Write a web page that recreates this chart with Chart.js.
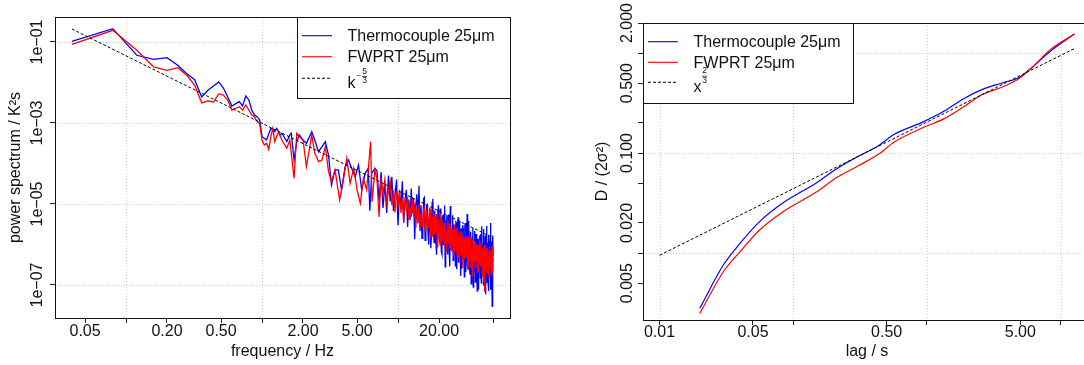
<!DOCTYPE html>
<html lang="en">
<head>
<meta charset="UTF-8">
<title>Spectrum and structure function</title>
<script src="https://cdn.jsdelivr.net/npm/chart.js@4.4.0/dist/chart.umd.min.js"></script>
<style>
  html, body { margin: 0; padding: 0; overflow: hidden; background: #fff; width: 1084px; height: 365px; }
  #left { position: absolute; left: 0; top: 0; }
  #right { position: absolute; left: 560px; top: 0; }
</style>
</head>
<body>
<div id="left"><canvas id="spec" width="540" height="365"></canvas></div>
<div id="right"><canvas id="struct" width="540" height="365"></canvas></div>
<script>
// ---- data ----
const seriesNames = ['Thermocouple 25μm', 'FWPRT 25μm'];

// power spectrum, low and mid frequencies (Hz)
const thermoFreqLow = [0.04,0.08,0.12,0.16,0.20,0.24,0.28,0.32,0.36,0.40,0.44,0.48,0.52,0.56,0.60,
  0.68,0.72,0.76,0.80,0.84,0.88,0.92,0.96,1.00,1.04,1.08,1.16,1.20,1.24,1.28,1.36,1.40,1.52,1.60,1.64,1.72,1.80,1.88,
  2.00,2.12,2.32,2.44,2.60,2.76,2.92,3.08,3.24,3.44,3.64,3.84,4.08,4.32,4.56,4.84,5.12,5.40,5.72,6.04,6.20,6.40,6.76];
const thermoPsdLow = [0.104,0.213,0.047,0.0374,0.0410,0.0266,0.0165,0.0117,0.00439,0.00641,0.0082,0.0103,0.0073,0.00439,0.00263,
  3.36e-3,2.63e-3,4.65e-3,3.70e-3,2.09e-3,1.58e-3,1.43e-3,1.19e-3,4.59e-4,4.18e-4,3.80e-4,7.40e-4,6.7e-4,6.1e-4,7.4e-4,5.06e-4,5.57e-4,3.46e-4,5.06e-4,5.57e-4,1.22e-4,3.46e-4,5.06e-4,
  3.80e-4,3.15e-4,6.10e-4,3.80e-4,1.95e-4,2.60e-4,3.46e-4,1.62e-4,2.94e-5,6.92e-5,6.92e-5,2.22e-5,8.34e-5,1.22e-4,7.60e-5,4.72e-5,9.18e-5,2.22e-5,5.73e-5,7.60e-5,6.84e-6,5.73e-5,7.60e-5];

const fwprtFreqLow = [0.04,0.08,0.12,0.16,0.20,0.24,0.28,0.32,0.36,0.40,0.44,0.48,0.52,0.56,0.60,
  0.68,0.72,0.76,0.80,0.84,0.88,0.92,0.96,1.00,1.04,1.08,1.12,1.16,1.20,1.24,1.32,1.40,1.52,1.60,1.72,1.80,1.88,
  2.00,2.12,2.32,2.44,2.52,2.60,2.76,2.92,3.08,3.24,3.44,3.72,3.96,4.20,4.44,4.72,5.00,5.28,5.56,5.88,6.28,6.44,6.76];
const fwprtPsdLow = [0.0877,0.194,0.0624,0.0242,0.0200,0.0232,0.0151,0.00853,0.00312,0.00349,0.00330,0.00520,0.00491,0.00370,0.00209,
  2.53e-3,2.09e-3,2.78e-3,2.09e-3,1.58e-3,1.43e-3,1.08e-3,9.8e-4,3.80e-4,2.86e-4,3.15e-4,2.24e-4,4.59e-4,7.40e-4,3.46e-4,6.10e-4,3.80e-4,2.37e-4,3.80e-4,4.32e-5,5.57e-4,4.59e-4,
  3.80e-4,8.34e-5,5.06e-4,1.79e-4,1.47e-4,1.11e-4,1.22e-4,2.60e-4,6.28e-5,3.56e-5,6.92e-5,1.26e-5,3.92e-5,1.34e-4,3.24e-5,7.60e-5,2.22e-5,1.04e-5,4.32e-5,2.22e-5,3.46e-4,1.14e-5,6.92e-5];

// power spectrum, high frequencies (shared grid)
const freqHigh = [7.00,7.25,7.50,7.75,8.00,8.25,8.50,8.75,9.00,9.25,9.50,9.75,10.00,10.25,10.50,10.75,11.00,11.25,11.50,11.75,
  12.00,12.25,12.50,12.75,13.00,13.25,13.50,13.75,14.00,14.25,14.50,14.75,15.00,
  15.4,15.8,16.2,16.6,17.0,17.4,17.8,18.2,18.6,19.0,19.4,19.8,20.2,20.6,21.0,21.4,21.8,22.2,22.6,23.0,
  23.4,23.8,24.2,24.6,25.0,25.4,25.8,26.2,26.6,27.0,27.4,27.8,28.2,28.6,29.0,29.4,29.8,30.2,
  30.7,31.2,31.7,32.2,32.7,33.2,33.7,34.2,34.7,35.2,35.7,36.2,36.7,37.2,37.7,38.2,38.7,39.2,39.7,40.2,
  40.7,41.2,41.7,42.2,42.7,43.2,43.7,44.2,44.7,45.2,45.7,46.2,46.7,47.2,47.7,48.2,48.7,49.2,49.7,50.0];
const thermoPsdHigh = [6.61e-5,1.20e-5,6.17e-5,7.94e-6,3.24e-5,6.03e-6,5.01e-5,1.15e-5,4.68e-5,6.76e-6,
  1.74e-5,3.98e-5,2.95e-6,2.0e-5,7.59e-6,3.63e-5,3.47e-6,1.05e-5,2.24e-5,2.69e-6,
  1.29e-5,3.98e-6,2.40e-5,5.89e-6,1.41e-5,1.35e-6,9.12e-6,1.74e-5,3.31e-6,2.82e-5,2.14e-6,9.33e-6,1.41e-6,
  1.35e-5,1.26e-6,8.51e-6,1.82e-6,4.90e-6,8.13e-7,1.10e-5,2.09e-6,6.92e-6,1.05e-6,
  4.37e-6,9.33e-6,1.26e-6,3.39e-6,5.75e-7,5.50e-6,1.66e-6,2.82e-7,3.80e-6,1.02e-6,
  5.50e-6,6.61e-7,8.91e-6,7.76e-7,2.34e-6,4.07e-7,3.09e-6,9.33e-7,3.63e-6,2.45e-7,
  1.48e-6,5.13e-7,3.89e-6,6.61e-7,2.04e-6,2.51e-7,1.35e-6,2.34e-6,
  1.58e-7,3.39e-6,4.17e-7,5.62e-6,2.45e-7,1.17e-6,1.82e-7,1.95e-6,4.27e-7,1.48e-6,
  8.91e-8,7.76e-7,2.14e-6,2.09e-7,1.02e-6,7.08e-8,1.38e-6,3.02e-7,1.66e-6,1.48e-7,
  7.24e-7,2.82e-6,2.0e-7,9.77e-7,9.55e-8,7.59e-7,1.66e-6,2.09e-7,2.88e-6,1.15e-7,
  7.94e-7,7.08e-8,1.23e-6,2.19e-7,3.39e-6,1.35e-7,9.55e-7,2.95e-8,1.66e-6,5.25e-7];
const fwprtPsdHigh = [4.17e-5,4.79e-6,4.37e-5,1.78e-5,4.07e-5,1.07e-5,2.24e-5,3.63e-5,9.33e-6,2.14e-5,
  6.17e-6,2.0e-5,9.33e-6,2.24e-5,6.03e-6,1.29e-5,3.47e-6,1.48e-5,7.94e-6,1.51e-5,
  4.07e-6,8.91e-6,4.79e-6,1.48e-5,5.01e-6,1.07e-5,2.57e-6,7.76e-6,3.72e-6,1.0e-5,2.69e-6,5.89e-6,2.82e-6,
  7.59e-6,2.24e-6,6.03e-6,3.24e-6,7.76e-6,1.45e-6,3.89e-6,5.89e-6,1.74e-6,3.72e-6,
  8.71e-7,4.17e-6,1.78e-6,4.79e-6,1.15e-6,2.75e-6,1.32e-6,3.55e-6,6.76e-7,2.04e-6,
  1.10e-6,3.31e-6,1.26e-6,6.92e-7,2.34e-6,1.02e-6,3.09e-6,6.61e-7,1.62e-6,6.92e-7,
  2.09e-6,4.57e-7,1.23e-6,2.09e-6,6.46e-7,1.41e-6,2.69e-7,1.48e-6,
  4.47e-7,1.51e-6,6.61e-7,1.58e-6,2.75e-7,1.05e-6,4.07e-7,1.55e-6,6.03e-7,1.66e-7,
  1.0e-6,3.89e-7,1.20e-6,2.63e-7,7.24e-7,3.98e-7,9.77e-7,2.14e-7,5.89e-7,1.05e-6,
  2.88e-7,7.08e-7,1.58e-7,7.76e-7,3.80e-7,6.76e-8,9.33e-7,2.95e-7,5.75e-7,2.04e-7,
  7.94e-7,3.98e-7,1.55e-7,8.71e-7,2.69e-7,6.03e-7,1.70e-7,9.33e-7,2.09e-7,4.68e-7];

// extra bins in between, 15-50 Hz
const freqHigh2 = [15.2,15.6,16.0,16.4,16.8,17.2,17.6,18.0,18.4,18.8,19.2,19.6,20.0,20.4,20.8,21.2,21.6,22.0,22.4,22.8,
  23.2,23.6,24.0,24.4,24.8,25.2,25.6,26.0,26.4,26.8,27.2,27.6,28.0,28.4,28.8,29.2,29.6,30.0,
  30.95,31.45,31.95,32.45,32.95,33.45,33.95,34.45,34.95,35.45,35.95,36.45,36.95,37.45,37.95,38.45,38.95,39.45,39.95,
  40.45,40.95,41.45,41.95,42.45,42.95,43.45,43.95,44.45,44.95,45.45,45.95,46.45,46.95,47.45,47.95,48.45,48.95,49.45];
const thermoPsdHigh2 = [1.95e-6,1.45e-5,2.75e-6,9.33e-6,1.00e-6,5.89e-6,1.78e-6,1.35e-5,1.12e-6,3.80e-6,
  5.62e-7,6.76e-6,1.45e-6,7.76e-6,6.61e-7,4.47e-6,9.55e-7,9.12e-6,1.38e-6,5.25e-6,
  5.62e-7,3.02e-6,2.88e-7,3.55e-6,7.59e-7,5.25e-6,5.62e-7,2.14e-6,2.95e-7,3.55e-6,
  7.59e-7,4.68e-6,3.55e-7,2.14e-6,1.66e-7,2.51e-6,4.37e-7,3.02e-6,
  2.75e-6,2.09e-7,1.62e-6,3.09e-7,3.80e-6,4.07e-7,2.00e-6,1.07e-7,1.05e-6,2.57e-6,
  1.95e-7,1.35e-6,1.17e-7,1.82e-6,2.82e-7,9.77e-7,7.59e-8,1.32e-6,3.31e-7,
  1.82e-6,1.12e-7,1.00e-6,1.74e-7,2.40e-6,2.14e-7,7.41e-7,5.89e-8,1.45e-6,2.57e-7,
  1.12e-6,1.12e-7,1.74e-6,1.74e-7,9.55e-7,7.59e-8,1.20e-6,2.09e-7,1.48e-6];
const fwprtPsdHigh2 = [3.89e-6,8.13e-6,2.19e-6,5.25e-6,2.51e-6,7.41e-6,3.16e-6,1.51e-6,5.01e-6,2.14e-6,
  5.62e-6,1.51e-6,2.88e-6,9.77e-7,4.17e-6,1.78e-6,3.39e-6,1.02e-6,2.75e-6,1.17e-6,
  3.98e-6,1.35e-6,8.13e-7,2.51e-6,8.51e-7,1.86e-6,5.01e-7,2.40e-6,1.17e-6,2.51e-6,
  5.37e-7,1.66e-6,7.08e-7,1.20e-6,5.25e-7,2.00e-6,6.92e-7,1.20e-6,
  1.38e-6,4.68e-7,1.02e-6,3.47e-7,1.51e-6,5.75e-7,1.26e-6,2.69e-7,7.41e-7,1.29e-6,
  3.89e-7,8.51e-7,2.95e-7,1.02e-6,5.01e-7,1.95e-7,8.51e-7,3.72e-7,1.17e-6,
  2.88e-7,6.31e-7,2.51e-7,7.76e-7,1.20e-7,9.55e-7,3.72e-7,6.61e-7,2.04e-7,8.13e-7,
  2.82e-7,5.01e-7,1.74e-7,8.71e-7,3.02e-7,6.76e-7,2.14e-7,5.25e-7,2.63e-7];

// k^(-5/3) reference line
const kFreq = [0.04, 50];
const kPsd = [0.21, 1.45e-6];

// structure function
const lag = [0.02,0.03,0.04,0.056,0.084,0.15,0.21,0.31,0.44,0.57,0.93,1.35,1.9,2.6,3.7,4.9,6.2,8.3,12.7];
const thermoD = [0.0028,0.00759,0.0125,0.0206,0.0318,0.0505,0.0692,0.0933,0.120,0.154,0.204,0.263,0.352,0.434,0.505,0.571,0.730,1.03,1.55];
const fwprtD = [0.00249,0.0065,0.0103,0.0170,0.0259,0.0410,0.0565,0.075,0.0984,0.129,0.179,0.221,0.292,0.385,0.460,0.558,0.730,1.07,1.55];
// x^(2/3) reference line
const powLag = [0.01, 12.7];
const powD = [0.0095, 1.11];

// axis ticks
const specXTicks = [0.05,0.1,0.2,0.5,1,2,5,10,20,50];
const specXLabels = ['0.05','','0.20','0.50','','2.00','5.00','','20.00',''];
const specXGrid = [0.1,1,10];
const specYTicks = [1e-7,1e-5,1e-3,1e-1];
const specYLabels = ['1e\u221207','1e\u221205','1e\u221203','1e\u221201'];
const specYGrid = [1e-7,1e-5,1e-3,1e-1];

const lagXTicks = [0.01,0.05,0.1,0.5,1,5,10];
const lagXLabels = ['0.01','0.05','','0.50','','5.00',''];
const lagXGrid = [0.01,0.1,1,10];
const lagYTicks = [0.005,0.01,0.02,0.05,0.1,0.2,0.5,1,2];
const lagYLabels = ['0.005','','0.020','','0.100','','0.500','','2.000'];
const lagYGrid = [0.01,0.1,1];

// ---- styling ----
const FONT = '"Liberation Sans", Arial, Helvetica, sans-serif';
const INK = '#111';
const BLUE = '#0000ff';
const RED = '#ff0000';

const pairs = (xs, ys) => xs.map((x, i) => ({ x: x, y: ys[i] })).sort((p, q) => p.x - q.x);

function logAxis(min, max, ticks, size, isX) {
  return {
    type: 'logarithmic', min: min, max: max,
    afterBuildTicks: s => { s.ticks = ticks.map(v => ({ value: v })); },
    afterFit: s => { if (isX) s.height = size; else s.width = size; },
    ticks: { display: false },
    grid: { drawOnChartArea: false, tickColor: '#222', tickLength: 5, tickWidth: 1 },
    border: { display: false }
  };
}

function drawPow(ctx, x, ly, p) {
  ctx.font = '16px ' + FONT;
  ctx.textAlign = 'left';
  ctx.textBaseline = 'alphabetic';
  ctx.fillText(p.base, x, ly + p.baseDy);
  ctx.font = '8.5px ' + FONT;
  ctx.textAlign = 'center';
  ctx.textBaseline = 'middle';
  if (p.sign) ctx.fillText(p.sign, x + p.signDx, ly + p.fracDy);
  ctx.fillText(p.num, x + p.fracDx, ly + p.fracDy - 4.8);
  ctx.fillText(p.den, x + p.fracDx, ly + p.fracDy + 5);
  ctx.fillRect(x + p.fracDx - 2.5, ly + p.fracDy, 5, 0.7);
}

function drawLegend(ctx, a, L) {
  const x0 = Math.round(L.alignRight ? a.right - L.w : a.left);
  const y0 = Math.round(a.top);
  ctx.fillStyle = '#fff';
  ctx.fillRect(x0, y0, L.w, L.h);
  ctx.strokeStyle = INK;
  ctx.lineWidth = 1;
  ctx.strokeRect(x0 + 0.5, y0 + 0.5, L.w, L.h);
  const cols = [BLUE, RED, '#000'];
  L.rows.forEach((ry, i) => {
    const ly = y0 + ry;
    ctx.beginPath();
    ctx.strokeStyle = cols[i];
    ctx.lineWidth = 1.1;
    ctx.setLineDash(i === 2 ? [3, 2] : []);
    ctx.moveTo(x0 + 5, ly);
    ctx.lineTo(x0 + 35, ly);
    ctx.stroke();
    ctx.setLineDash([]);
    ctx.fillStyle = INK;
    if (i < 2) {
      ctx.font = '16px ' + FONT;
      ctx.textAlign = 'left';
      ctx.textBaseline = 'alphabetic';
      ctx.fillText(seriesNames[i], x0 + 50.5, ly + 5.2);
    } else {
      drawPow(ctx, x0 + 50.5, ly, L.pow);
    }
  });
}

function rStyle(spec) {
  return {
    id: 'rStyle',
    beforeDatasetsDraw(chart) {
      // dotted light grey grid, R grid() style
      const ctx = chart.ctx, a = chart.chartArea;
      const sx = chart.scales.x, sy = chart.scales.y;
      ctx.save();
      ctx.strokeStyle = '#cdcdcd';
      ctx.lineWidth = 1;
      ctx.setLineDash([1, 2]);
      spec.xGrid.forEach(v => {
        const px = Math.round(sx.getPixelForValue(v)) + 0.5;
        ctx.beginPath(); ctx.moveTo(px, a.top); ctx.lineTo(px, a.bottom); ctx.stroke();
      });
      spec.yGrid.forEach(v => {
        const py = Math.round(sy.getPixelForValue(v)) + 0.5;
        ctx.beginPath(); ctx.moveTo(a.left, py); ctx.lineTo(a.right, py); ctx.stroke();
      });
      ctx.restore();
    },
    afterDraw(chart) {
      const ctx = chart.ctx, a = chart.chartArea;
      const sx = chart.scales.x, sy = chart.scales.y;
      ctx.save();
      ctx.strokeStyle = INK;
      ctx.lineWidth = 1;
      ctx.strokeRect(Math.round(a.left) + 0.5, Math.round(a.top) + 0.5,
        Math.round(a.right - a.left), Math.round(a.bottom - a.top));
      ctx.fillStyle = INK;
      ctx.font = '16px ' + FONT;
      ctx.textAlign = 'center';
      ctx.textBaseline = 'middle';
      spec.xTicks.forEach((v, i) => {
        if (spec.xLabels[i]) ctx.fillText(spec.xLabels[i], sx.getPixelForValue(v), a.bottom + spec.xLabelDy);
      });
      spec.yTicks.forEach((v, i) => {
        if (!spec.yLabels[i]) return;
        ctx.save();
        ctx.translate(a.left - spec.yLabelDx, sy.getPixelForValue(v));
        ctx.rotate(-Math.PI / 2);
        ctx.fillText(spec.yLabels[i], 0, 0);
        ctx.restore();
      });
      ctx.fillText(spec.xTitle, (a.left + a.right) / 2, a.bottom + spec.xTitleDy);
      ctx.save();
      ctx.translate(a.left - spec.yTitleDx, (a.top + a.bottom) / 2);
      ctx.rotate(-Math.PI / 2);
      ctx.fillText(spec.yTitle, 0, 0);
      ctx.restore();
      drawLegend(ctx, a, spec.legend);
      ctx.restore();
    }
  };
}

const baseOptions = {
  responsive: false,
  animation: false,
  devicePixelRatio: 1,
  events: [],
  elements: { point: { radius: 0 }, line: { borderWidth: 1.3 } },
  plugins: { legend: { display: false }, tooltip: { enabled: false } }
};

// ---- left: power spectrum ----
new Chart(document.getElementById('spec'), {
  type: 'line',
  data: {
    datasets: [
      { data: pairs(kFreq, kPsd), borderColor: '#000', borderWidth: 1, borderDash: [3, 2] },
      { data: pairs(fwprtFreqLow.concat(freqHigh, freqHigh2), fwprtPsdLow.concat(fwprtPsdHigh, fwprtPsdHigh2)), borderColor: RED },
      { data: pairs(thermoFreqLow.concat(freqHigh, freqHigh2), thermoPsdLow.concat(thermoPsdHigh, thermoPsdHigh2)), borderColor: BLUE }
    ]
  },
  options: Object.assign({}, baseOptions, {
    layout: { padding: { left: 0, top: 17, right: 30, bottom: 0 } },
    scales: {
      x: logAxis(0.03006, 66.5, specXTicks, 47, true),
      y: logAxis(1.53e-8, 0.414, specYTicks, 55, false)
    }
  }),
  plugins: [rStyle({
    xTicks: specXTicks, xLabels: specXLabels, yTicks: specYTicks, yLabels: specYLabels,
    xGrid: specXGrid, yGrid: specYGrid,
    xLabelDy: 14, xTitleDy: 34, yLabelDx: 17.3, yTitleDx: 39,
    xTitle: 'frequency / Hz', yTitle: 'power spectrum / K\u00b2s',
    legend: { alignRight: true, w: 213, h: 81, rows: [18.7, 39.7, 61.3],
      pow: { base: 'k', baseDy: 10, sign: '\u2212', signDx: 11.5, num: '5', den: '3', fracDx: 17, fracDy: -2.3 } }
  })]
});

// ---- right: structure function ----
new Chart(document.getElementById('struct'), {
  type: 'line',
  data: {
    datasets: [
      { data: pairs(powLag, powD), borderColor: '#000', borderWidth: 1, borderDash: [3, 2] },
      { data: pairs(lag, fwprtD), borderColor: RED, borderWidth: 1.2, cubicInterpolationMode: 'monotone' },
      { data: pairs(lag, thermoD), borderColor: BLUE, borderWidth: 1.2, cubicInterpolationMode: 'monotone' }
    ]
  },
  options: Object.assign({}, baseOptions, {
    layout: { padding: { left: 0, top: 23, right: 9, bottom: 0 } },
    scales: {
      x: logAxis(0.00752, 16.9, lagXTicks, 45, true),
      y: logAxis(0.00214, 2.0, lagYTicks, 83, false)
    }
  }),
  plugins: [rStyle({
    xTicks: lagXTicks, xLabels: lagXLabels, yTicks: lagYTicks, yLabels: lagYLabels,
    xGrid: lagXGrid, yGrid: lagYGrid,
    xLabelDy: 12.5, xTitleDy: 32, yLabelDx: 15.5, yTitleDx: 40,
    xTitle: 'lag / s', yTitle: 'D / (2\u03c3\u00b2)',
    legend: { alignRight: false, w: 210, h: 80, rows: [18.7, 39.3, 59.3],
      pow: { base: 'x', baseDy: 9.4, sign: '', signDx: 0, num: '2', den: '3', fracDx: 11, fracDy: -6.5 } }
  })]
});
</script>
</body>
</html>
